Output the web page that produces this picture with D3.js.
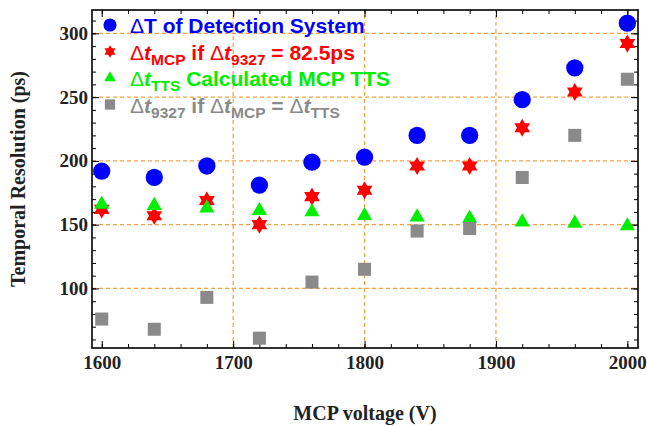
<!DOCTYPE html>
<html>
<head>
<meta charset="utf-8">
<script src="https://cdn.jsdelivr.net/npm/d3@7"></script>
<style>
  body { margin: 0; background: #fff; }
  svg { display: block; }
</style>
</head>
<body>
<svg id="chart"></svg>
<script>
const voltages = [1600, 1640, 1680, 1720, 1760, 1800, 1840, 1880, 1920, 1960, 2000];
const deltaT = [192, 187, 196, 181, 199, 203, 220, 220, 248, 273, 308];
const deltaMcp = [162, 157, 169, 150, 172, 177, 196, 196, 226, 254, 292];
const deltaTts = [166, 165, 163, 161, 160, 157, 156, 155, 152, 151, 149];
const delta9327 = [76, 68, 93, 61, 105, 115, 145, 147, 187, 220, 264];

const xTicks = [1600, 1700, 1800, 1900, 2000];
const yTicks = [100, 150, 200, 250, 300];
const xGrid = [1700, 1800, 1900];

const width = 647, height = 426;
const margin = { left: 92, right: 9, top: 10, bottom: 78 };

const svg = d3.select('#chart')
  .attr('width', width)
  .attr('height', height);

const x = d3.scaleLinear()
  .domain([1592.6, 2008.1])
  .range([margin.left, width - margin.right]);

const y = d3.scaleLinear()
  .domain([53.3, 318.3])
  .range([height - margin.bottom, margin.top]);

// six pointed star, size = (2R)^2
const hexagram = {
  draw(context, size) {
    const R = Math.sqrt(size) / 2;
    const r = R / Math.sqrt(3);
    for (let i = 0; i < 12; i++) {
      const a = -Math.PI / 2 + i * Math.PI / 6;
      const rr = i % 2 === 0 ? R : r;
      const px = rr * Math.cos(a), py = rr * Math.sin(a);
      if (i === 0) context.moveTo(px, py); else context.lineTo(px, py);
    }
    context.closePath();
  }
};

const series = [
  { values: deltaT, color: '#0000ff', type: d3.symbolCircle, size: 235, legendSize: 135 },
  { values: deltaMcp, color: '#ff0000', type: hexagram, size: 330, legendSize: 160 },
  { values: deltaTts, color: '#00ee00', type: d3.symbolTriangle, size: 100, legendSize: 58 },
  { values: delta9327, color: '#8a8a8a', type: d3.symbolSquare, size: 170, legendSize: 105 }
];

// grid
const grid = svg.append('g')
  .attr('stroke', '#f7a040')
  .attr('stroke-width', 1.2)
  .attr('stroke-dasharray', '4,3');

grid.selectAll('line.h')
  .data(yTicks)
  .join('line')
  .attr('x1', x.range()[0]).attr('x2', x.range()[1])
  .attr('y1', d => y(d)).attr('y2', d => y(d));

grid.selectAll('line.v')
  .data(xGrid)
  .join('line')
  .attr('class', 'v')
  .attr('y1', y.range()[0]).attr('y2', y.range()[1])
  .attr('x1', d => x(d)).attr('x2', d => x(d));

// axes (ticks inward on all four sides)
const xMinor = d3.range(1600, 2001, 20);
const yMinor = d3.range(60, 311, 10);
const fontSerif = '"Liberation Serif", "Times New Roman", serif';

function styleAxis(g) {
  g.select('.domain').remove();
  g.selectAll('.tick line').attr('stroke', '#000').attr('stroke-width', 1);
  g.selectAll('text')
    .attr('font-family', fontSerif)
    .attr('font-weight', 'bold')
    .attr('font-size', 19)
    .attr('fill', '#222');
}

const bottomY = y.range()[0], topY = y.range()[1];
const leftX = x.range()[0], rightX = x.range()[1];

svg.append('g').attr('transform', `translate(0,${bottomY})`)
  .call(d3.axisBottom(x).tickValues(xMinor).tickSize(-4).tickFormat(''))
  .call(styleAxis);
svg.append('g').attr('transform', `translate(0,${bottomY})`)
  .call(d3.axisBottom(x).tickValues(xTicks).tickSize(-7).tickPadding(8).tickFormat(d3.format('d')))
  .call(styleAxis);
svg.append('g').attr('transform', `translate(0,${topY})`)
  .call(d3.axisTop(x).tickValues(xMinor).tickSize(-4).tickFormat(''))
  .call(styleAxis);
svg.append('g').attr('transform', `translate(0,${topY})`)
  .call(d3.axisTop(x).tickValues(xTicks).tickSize(-7).tickFormat(''))
  .call(styleAxis);

svg.append('g').attr('transform', `translate(${leftX},0)`)
  .call(d3.axisLeft(y).tickValues(yMinor).tickSize(-4).tickFormat(''))
  .call(styleAxis);
svg.append('g').attr('transform', `translate(${leftX},0)`)
  .call(d3.axisLeft(y).tickValues(yTicks).tickSize(-7).tickPadding(4).tickFormat(d3.format('d')))
  .call(styleAxis);
svg.append('g').attr('transform', `translate(${rightX},0)`)
  .call(d3.axisRight(y).tickValues(yMinor).tickSize(-4).tickFormat(''))
  .call(styleAxis);
svg.append('g').attr('transform', `translate(${rightX},0)`)
  .call(d3.axisRight(y).tickValues(yTicks).tickSize(-7).tickFormat(''))
  .call(styleAxis);

// frame
svg.append('rect')
  .attr('x', leftX).attr('y', topY)
  .attr('width', rightX - leftX).attr('height', bottomY - topY)
  .attr('fill', 'none')
  .attr('stroke', '#000')
  .attr('stroke-width', 1.6);

// points
series.forEach(s => {
  svg.append('g')
    .selectAll('path')
    .data(voltages.map((v, i) => [v, s.values[i]]))
    .join('path')
    .attr('transform', d => `translate(${x(d[0])},${y(d[1])})`)
    .attr('d', d3.symbol().type(s.type).size(s.size))
    .attr('fill', s.color);
});

// axis titles
svg.append('text')
  .attr('x', (leftX + rightX) / 2)
  .attr('y', 420)
  .attr('text-anchor', 'middle')
  .attr('font-family', fontSerif)
  .attr('font-weight', 'bold')
  .attr('font-size', 20)
  .attr('fill', '#222')
  .text('MCP voltage (V)');

svg.append('text')
  .attr('transform', `translate(25,${(topY + bottomY) / 2}) rotate(-90)`)
  .attr('text-anchor', 'middle')
  .attr('font-family', fontSerif)
  .attr('font-weight', 'bold')
  .attr('font-size', 20)
  .attr('fill', '#222')
  .text('Temporal Resolution (ps)');

// legend
const legendLabels = [
  [['Δ', 'd'], ['T of Detection System', 'n']],
  [['Δ', 'd'], ['t', 'i'], ['MCP', 's'], [' if ', 'n'], ['Δ', 'd'], ['t', 'i'], ['9327', 's'], [' = 82.5ps', 'n']],
  [['Δ', 'd'], ['t', 'i'], ['TTS', 's'], [' Calculated MCP TTS', 'n']],
  [['Δ', 'd'], ['t', 'i'], ['9327', 's'], [' if ', 'n'], ['Δ', 'd'], ['t', 'i'], ['MCP', 's'], [' = ', 'n'], ['Δ', 'd'], ['t', 'i'], ['TTS', 's']]
];

const legend = svg.append('g');
series.forEach((s, i) => {
  const row = legend.append('g').attr('transform', `translate(0,${25 + i * 26.5})`);
  row.append('path')
    .attr('transform', 'translate(110,0)')
    .attr('d', d3.symbol().type(s.type).size(s.legendSize))
    .attr('fill', s.color);
  const t = row.append('text')
    .attr('x', 130)
    .attr('y', 8)
    .attr('font-family', '"Liberation Sans", Arial, sans-serif')
    .attr('font-weight', 'bold')
    .attr('font-size', 21)
    .attr('fill', s.color);
  let shifted = false;
  legendLabels[i].forEach(([str, kind]) => {
    const sp = t.append('tspan').text(str);
    if (kind === 'd') sp.attr('font-weight', 'normal');
    if (kind === 'i') sp.attr('font-style', 'italic');
    if (kind === 's') {
      sp.attr('font-size', 15.5).attr('dy', 5);
      shifted = true;
    } else if (shifted) {
      sp.attr('dy', -5);
      shifted = false;
    }
  });
});
</script>
</body>
</html>
